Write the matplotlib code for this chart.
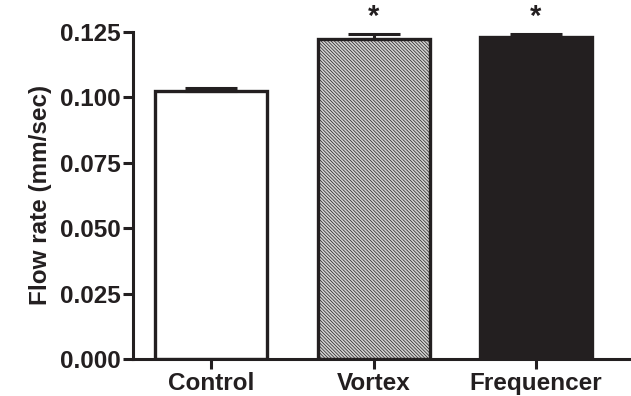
import numpy as np
import matplotlib.pyplot as plt

plt.rcParams['font.family'] = ['Liberation Sans', 'DejaVu Sans']
plt.rcParams['font.weight'] = 'bold'
plt.rcParams['hatch.linewidth'] = 0.5
plt.rcParams['hatch.color'] = '#8c8c8c'

groups = ['Control', 'Vortex', 'Frequencer']
flow_rate = [0.1022, 0.1221, 0.1231]
sem = [0.0014, 0.0020, 0.0010]
significant = [False, True, True]

ink = '#231f20'
fig = plt.figure(figsize=(6.31, 3.96), dpi=100)
ax = fig.add_axes([0.211, 0.0934, 0.789, 0.8265])

x = np.arange(len(groups))
faces = ['white', '#d2d2d2', ink]
hatches = [None, '\\\\\\\\\\\\\\\\\\\\', None]
for i in range(len(groups)):
    ax.bar(x[i], flow_rate[i], width=0.69, color=faces[i], edgecolor=ink,
           linewidth=2.4, hatch=hatches[i], zorder=2)
ax.errorbar(x, flow_rate, yerr=[np.zeros(len(sem)), sem], fmt='none',
            ecolor=ink, elinewidth=2.2, capsize=19, capthick=2.2, zorder=3)

for i in range(len(groups)):
    if significant[i]:
        ax.text(x[i], flow_rate[i] + sem[i] + 0.0012, '*', ha='center',
                va='bottom', fontsize=21, color=ink, clip_on=False)

ax.set_xlim(-0.48, 2.585)
ax.set_ylim(0, 0.125)
ax.set_yticks(np.arange(0, 0.126, 0.025))
ax.set_yticklabels(['%.3f' % v for v in np.arange(0, 0.126, 0.025)])
ax.set_xticks(x)
ax.set_xticklabels(groups)
ax.set_ylabel('Flow rate (mm/sec)', fontsize=17.5, fontweight='bold',
              color=ink, labelpad=6)

for s in ['top', 'right']:
    ax.spines[s].set_visible(False)
for s in ['left', 'bottom']:
    ax.spines[s].set_linewidth(2.2)
    ax.spines[s].set_color(ink)
ax.tick_params(axis='both', length=7, width=2.2, color=ink, labelcolor=ink,
               labelsize=17.5, pad=2)

fig.savefig('out.png', dpi=100)
